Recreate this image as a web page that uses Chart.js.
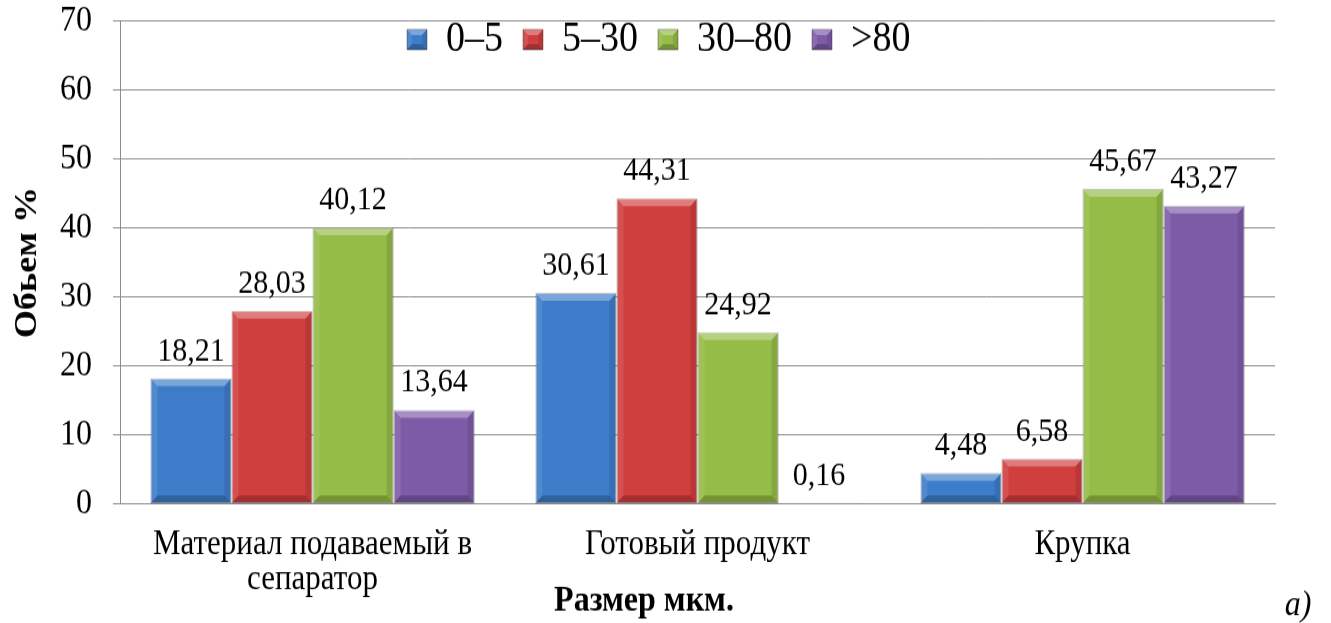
<!DOCTYPE html>
<html lang="ru">
<head>
<meta charset="utf-8">
<title>Распределение частиц по размерам</title>
<script src="https://cdn.jsdelivr.net/npm/chart.js@4/dist/chart.umd.min.js"></script>
<style>
  html, body { margin: 0; padding: 0; background: #ffffff; }
  #wrap { width: 1331px; height: 623px; position: relative; overflow: hidden; }
  /* the figure is drawn 1331x551 and stretched to the 623px page height */
  #stretch { width: 1331px; height: 551px; transform: scaleY(1.1307); transform-origin: 0 0; }
</style>
</head>
<body>
<div id="wrap"><div id="stretch"><canvas id="chart" width="1331" height="551"></canvas></div></div>
<script>
// Categories (wrapped labels) and particle-size fractions, volume %
const categories = [
  ['Материал подаваемый в', 'сепаратор'],
  'Готовый продукт',
  'Крупка'
];
const seriesNames = ['0–5', '5–30', '30–80', '>80'];
const size0to5   = [18.21, 30.61, 4.48];
const size5to30  = [28.03, 44.31, 6.58];
const size30to80 = [40.12, 24.92, 45.67];
const sizeOver80 = [13.64, 0.16, 43.27];
const yTicks = [0, 10, 20, 30, 40, 50, 60, 70];

const seriesColors = ['#3d7cc8', '#cf3f3e', '#94bc47', '#7d5ba6'];
const serif = '"Liberation Serif", "Times New Roman", serif';

// Excel-like bevel: light top/left edges, darker right/bottom edges
function bevel(ctx, x0, y0, x1, y1, size) {
  const w = x1 - x0, h = y1 - y0;
  const s = Math.max(0, Math.min(size, w / 2, h / 2));
  if (s < 0.5) return;
  const quad = (pts, fill) => {
    ctx.beginPath();
    ctx.moveTo(pts[0][0], pts[0][1]);
    for (let i = 1; i < pts.length; i++) ctx.lineTo(pts[i][0], pts[i][1]);
    ctx.closePath();
    ctx.fillStyle = fill;
    ctx.fill();
  };
  quad([[x0, y0], [x1, y0], [x1 - s, y0 + s], [x0 + s, y0 + s]], 'rgba(255,255,255,0.32)');
  quad([[x0, y0], [x0 + s, y0 + s], [x0 + s, y1 - s], [x0, y1]], 'rgba(255,255,255,0.10)');
  quad([[x1, y0], [x1, y1], [x1 - s, y1 - s], [x1 - s, y0 + s]], 'rgba(0,0,0,0.10)');
  quad([[x0, y1], [x0 + s, y1 - s], [x1 - s, y1 - s], [x1, y1]], 'rgba(0,0,0,0.22)');
}

const bevelPlugin = {
  id: 'bevelBars',
  afterDatasetsDraw(chart) {
    const ctx = chart.ctx;
    ctx.save();
    chart.data.datasets.forEach((ds, i) => {
      const meta = chart.getDatasetMeta(i);
      meta.data.forEach(bar => {
        const p = bar.getProps(['x', 'y', 'base', 'width'], true);
        bevel(ctx, p.x - p.width / 2, Math.min(p.y, p.base), p.x + p.width / 2, Math.max(p.y, p.base), 7);
      });
    });
    ctx.restore();
  }
};

// Value labels above each bar, decimal comma
const valueLabelPlugin = {
  id: 'valueLabels',
  afterDatasetsDraw(chart) {
    const ctx = chart.ctx;
    ctx.save();
    ctx.font = '30px ' + serif;
    ctx.fillStyle = '#000000';
    ctx.textAlign = 'center';
    ctx.textBaseline = 'alphabetic';
    chart.data.datasets.forEach((ds, i) => {
      const meta = chart.getDatasetMeta(i);
      meta.data.forEach((bar, j) => {
        const text = ds.data[j].toFixed(2).replace('.', ',');
        ctx.fillText(text, bar.x, bar.y - 16);
      });
    });
    ctx.restore();
  }
};

// Legend row is placed inside the plot, just under the top gridline
const LEGEND_TOP = -4;
const LEGEND_HEIGHT = 80;
const LEGEND_START = 407;
const legendPlacePlugin = {
  id: 'legendPlace',
  afterLayout(chart) {
    const lg = chart.legend;
    if (!lg || !lg.lineWidths) return;
    const pad = lg.options.labels.padding;
    const start = (lg.left + pad + lg.right - lg.lineWidths[0]) / 2;
    const dx = LEGEND_START - start;
    lg.left += dx;
    lg.right += dx;
    lg.top = LEGEND_TOP;
    lg.bottom = LEGEND_TOP + LEGEND_HEIGHT;
    lg.height = LEGEND_HEIGHT;
  },
  afterDraw(chart) {
    const lg = chart.legend;
    if (!lg || !lg.legendHitBoxes) return;
    const ctx = chart.ctx;
    const opts = lg.options.labels;
    const fs = opts.font.size;
    ctx.save();
    lg.legendHitBoxes.forEach(h => {
      const top = h.top + Math.max((fs - opts.boxHeight) / 2, 0);
      bevel(ctx, h.left, top, h.left + opts.boxWidth, top + opts.boxHeight, 5);
    });
    ctx.restore();
  }
};

// Axis caption under the categories and the panel letter
const captionPlugin = {
  id: 'captions',
  afterDraw(chart) {
    const ctx = chart.ctx;
    ctx.save();
    ctx.fillStyle = '#000000';
    ctx.textBaseline = 'middle';
    ctx.textAlign = 'center';
    ctx.font = 'bold 32px ' + serif;
    ctx.fillText('Размер мкм.', 644, 532);
    ctx.font = 'italic 32px ' + serif;
    ctx.fillText('a)', 1298, 536);
    ctx.restore();
  }
};

const datasets = [size0to5, size5to30, size30to80, sizeOver80].map((values, i) => ({
  label: seriesNames[i],
  data: values,
  backgroundColor: seriesColors[i],
  borderColor: 'rgba(40,40,40,0.4)',
  borderWidth: 1,
  borderSkipped: false,
  categoryPercentage: 0.842,
  barPercentage: 1.0
}));

new Chart(document.getElementById('chart'), {
  type: 'bar',
  data: { labels: categories, datasets },
  plugins: [bevelPlugin, valueLabelPlugin, legendPlacePlugin, captionPlugin],
  options: {
    responsive: false,
    animation: false,
    devicePixelRatio: 1,
    layout: { padding: { left: 0, right: 56, top: 17.6, bottom: 0 } },
    plugins: {
      tooltip: { enabled: false },
      title: { display: false },
      legend: {
        position: 'top',
        align: 'center',
        maxHeight: 1,
        labels: {
          boxWidth: 20,
          boxHeight: 18,
          padding: 20,
          color: '#000000',
          font: { family: serif, size: 38 }
        }
      }
    },
    scales: {
      x: {
        afterFit(scale) { scale.height = 105.3; scale.paddingLeft = 0; scale.paddingRight = 0; },
        grid: { display: false },
        border: { display: true, color: '#8c8c8c', width: 1 },
        ticks: {
          color: '#000000',
          padding: 13,
          maxRotation: 0,
          autoSkip: false,
          font: { family: serif, size: 31, lineHeight: 1.0 }
        }
      },
      y: {
        min: 0,
        max: 70,
        afterFit(scale) { scale.width = 120; scale.paddingTop = 0; scale.paddingBottom = 0; },
        afterBuildTicks(scale) { scale.ticks = yTicks.map(v => ({ value: v })); },
        grid: { color: '#8c8c8c', lineWidth: 1, tickLength: 7, drawTicks: true },
        border: { display: true, color: '#8c8c8c', width: 1 },
        ticks: {
          color: '#000000',
          padding: 21,
          font: { family: serif, size: 32 }
        },
        title: {
          display: true,
          text: 'Обьем %',
          color: '#000000',
          padding: { top: 9, bottom: 0 },
          font: { family: serif, size: 32, weight: 'bold' }
        }
      }
    }
  }
});
</script>
</body>
</html>
